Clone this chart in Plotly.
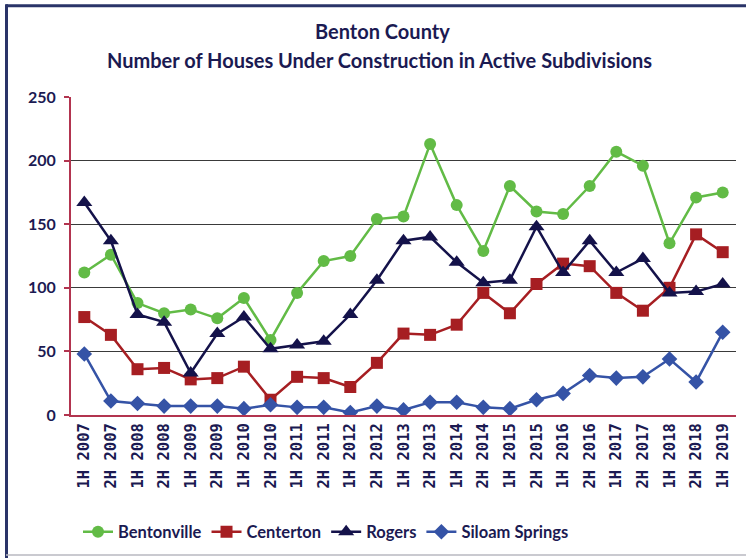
import plotly.graph_objects as go

periods = [
    "1H 2007", "2H 2007", "1H 2008", "2H 2008", "1H 2009", "2H 2009",
    "1H 2010", "2H 2010", "1H 2011", "2H 2011", "1H 2012", "2H 2012",
    "1H 2013", "2H 2013", "1H 2014", "2H 2014", "1H 2015", "2H 2015",
    "1H 2016", "2H 2016", "1H 2017", "2H 2017", "1H 2018", "2H 2018",
    "1H 2019",
]
bentonville = [112, 126, 88, 80, 83, 76, 92, 59, 96, 121, 125, 154, 156,
               213, 165, 129, 180, 160, 158, 180, 207, 196, 135, 171, 175]
centerton = [77, 63, 36, 37, 28, 29, 38, 12, 30, 29, 22, 41, 64,
             63, 71, 96, 80, 103, 119, 117, 96, 82, 100, 142, 128]
rogers = [167, 137, 79, 73, 33, 64, 77, 52, 55, 58, 79, 106, 137,
          140, 120, 104, 106, 148, 112, 137, 112, 123, 96, 97, 103]
siloam_springs = [48, 11, 9, 7, 7, 7, 5, 8, 6, 6, 2, 7, 4,
                  10, 10, 6, 5, 12, 17, 31, 29, 30, 44, 26, 65]
y_ticks = [0, 50, 100, 150, 200, 250]
title_lines = ["Benton County",
               "Number of Houses Under Construction in Active Subdivisions"]

NAVY = "#1b1a52"
AXIS_RED = "#b2344f"
W, H = 746, 558
ML, MR, MT, MB = 71, 10, 97, 142

series = [
    ("Bentonville", bentonville, "#62bb46", "circle", 12),
    ("Centerton", centerton, "#a61e22", "square", 12),
    ("Rogers", rogers, "#14124a", "triangle-up", 14),
    ("Siloam Springs", siloam_springs, "#3553a6", "diamond", 12),
]

fig = go.Figure()
for name, vals, color, symbol, size in series:
    fig.add_trace(go.Scatter(
        x=periods, y=vals, name=name, mode="lines+markers",
        line=dict(color=color, width=2.5),
        marker=dict(symbol=symbol, size=size, color=color),
    ))

pw = W - ML - MR
ph = H - MT - MB


def px_x(px):
    return (px - ML) / pw


def px_y(py):
    return (H - MB - py) / ph


frame = dict(xref="paper", yref="paper", layer="above")
shapes = [
    dict(type="line", x0=px_x(6), x1=px_x(W + 5), y0=px_y(5.5), y1=px_y(5.5),
         line=dict(color="#2a3468", width=3), **frame),
    dict(type="line", x0=px_x(6.5), x1=px_x(6.5), y0=px_y(4), y1=px_y(H + 5),
         line=dict(color="#2a3468", width=3), **frame),
    dict(type="line", x0=px_x(6), x1=px_x(W + 5), y0=px_y(556.5), y1=px_y(556.5),
         line=dict(color="#b8b8c0", width=1.5), **frame),
]

title_font = dict(family="Lato", size=20, color=NAVY, weight="bold")
annotations = [
    dict(text=t, xref="paper", yref="paper", x=px_x(x), y=px_y(y),
         xanchor="center", yanchor="middle", showarrow=False, font=title_font)
    for t, x, y in zip(title_lines, [382, 379], [31, 60])
]

fig.update_layout(
    width=W, height=H,
    margin=dict(l=ML, r=MR, t=MT, b=MB),
    paper_bgcolor="white", plot_bgcolor="white",
    xaxis=dict(
        type="category", tickangle=-90, showgrid=False,
        showline=True, linecolor=AXIS_RED, linewidth=2,
        ticks="", tickfont=dict(family="DejaVu Sans Mono", size=15.5, color=NAVY, weight="bold"),
        range=[-0.5, len(periods) - 0.5],
    ),
    yaxis=dict(
        range=[0, 250], tickvals=y_ticks, showgrid=True,
        gridcolor="#3a3a3a", gridwidth=1,
        showline=True, linecolor=AXIS_RED, linewidth=2,
        ticks="outside", ticklen=5, tickcolor=AXIS_RED, tickwidth=2,
        ticklabelstandoff=5, zeroline=False,
        tickfont=dict(family="Lato", size=16, color=NAVY, weight="bold"),
    ),
    legend=dict(
        orientation="h", x=px_x(78), xanchor="left", y=px_y(532), yanchor="middle",
        font=dict(family="Lato", size=16.5, color=NAVY, weight="bold"),
        itemwidth=30, tracegroupgap=0,
    ),
    shapes=shapes,
    annotations=annotations,
)

fig.write_html("out.html")
